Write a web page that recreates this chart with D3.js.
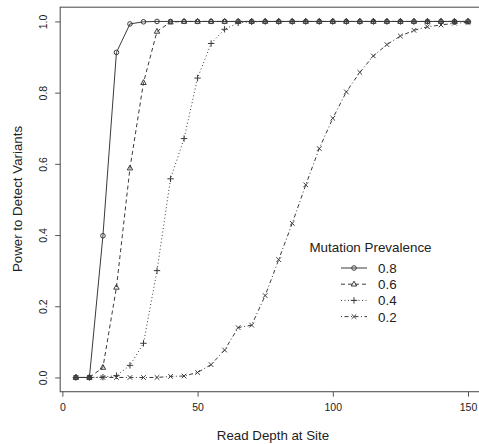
<!DOCTYPE html>
<html>
<head>
<meta charset="utf-8">
<script src="https://cdn.jsdelivr.net/npm/d3@7"></script>
<style>
  body { margin: 0; background: #fff; }
  text { font-family: "Liberation Sans", Arial, sans-serif; fill: #222; }
</style>
</head>
<body>
<div id="chart"></div>
<script>
// read depth at each site (x values)
let depths = [5, 10, 15, 20, 25, 30, 35, 40, 45, 50, 55, 60, 65, 70, 75,
  80, 85, 90, 95, 100, 105, 110, 115, 120, 125, 130, 135, 140, 145, 150];

// power to detect, one array per mutation prevalence
let power08 = [0, 0, 0.398, 0.913, 0.993, 0.999, 1, 1, 1, 1, 1, 1, 1, 1, 1,
  1, 1, 1, 1, 1, 1, 1, 1, 1, 1, 1, 1, 1, 1, 1];
let power06 = [0, 0, 0.028, 0.253, 0.588, 0.828, 0.972, 0.998, 1, 1, 1, 1, 1, 1, 1,
  1, 1, 1, 1, 1, 1, 1, 1, 1, 1, 1, 1, 1, 1, 1];
let power04 = [0, 0, 0.001, 0.005, 0.034, 0.096, 0.30, 0.558, 0.671, 0.841, 0.938, 0.978, 0.996, 0.999, 1,
  1, 1, 1, 1, 1, 1, 1, 1, 1, 1, 1, 1, 1, 1, 1];
let power02 = [0, 0, 0, 0, 0, 0, 0, 0.003, 0.004, 0.014, 0.036, 0.077, 0.14, 0.147, 0.23,
  0.331, 0.433, 0.541, 0.643, 0.728, 0.802, 0.857, 0.903, 0.935, 0.959, 0.975, 0.985, 0.990, 0.995, 0.997];

let prevalences = ['0.8', '0.6', '0.4', '0.2'];
let seriesValues = [power08, power06, power04, power02];

let xTicks = [0, 50, 100, 150];
let yTicks = [0, 0.2, 0.4, 0.6, 0.8, 1.0];

let w = 479,
  h = 444;

// R style: data range padded by 4%
let xScale = d3.scaleLinear().domain([-0.8, 155.8]).range([60.2, 483.7]);
let yScale = d3.scaleLinear().domain([-0.04, 1.04]).range([391.7, 7.2]);

let dashes = ['none', '4,3', '1,2.5', '1,2.5,4,2.5'];
let ink = '#3a3a3a';

let svg = d3.select('#chart')
  .append('svg')
  .attr('width', w)
  .attr('height', h);

// plot box
svg.append('rect')
  .attr('x', xScale.range()[0])
  .attr('y', yScale.range()[1])
  .attr('width', xScale.range()[1] - xScale.range()[0])
  .attr('height', yScale.range()[0] - yScale.range()[1])
  .style('fill', 'none')
  .style('stroke', '#555')
  .style('stroke-width', 1.1);

// axes
let xAxis = d3.axisBottom(xScale).tickValues(xTicks).tickSize(5).tickPadding(7)
  .tickFormat(d3.format('d'));
let gx = svg.append('g')
  .attr('transform', 'translate(0,' + yScale.range()[0] + ')')
  .call(xAxis);
gx.select('.domain').remove();
gx.selectAll('line').style('stroke', '#555');
gx.selectAll('text').style('font-size', '10.5px').style('font-family', '"Liberation Sans", Arial, sans-serif')
  .style('fill', '#222');

let yAxis = d3.axisLeft(yScale).tickValues(yTicks).tickSize(5)
  .tickFormat(d3.format('.1f'));
let gy = svg.append('g')
  .attr('transform', 'translate(' + xScale.range()[0] + ',0)')
  .call(yAxis);
gy.select('.domain').remove();
gy.selectAll('line').style('stroke', '#555');
gy.selectAll('text')
  .attr('x', null).attr('dy', null)
  .attr('text-anchor', 'middle')
  .attr('transform', 'translate(-13.5,0) rotate(-90)')
  .style('font-size', '10.5px').style('font-family', '"Liberation Sans", Arial, sans-serif')
  .style('fill', '#222');

// axis titles
svg.append('text')
  .text('Read Depth at Site')
  .attr('x', 273)
  .attr('y', 440)
  .attr('text-anchor', 'middle')
  .style('font-size', '13.3px');

svg.append('text')
  .text('Power to Detect Variants')
  .attr('text-anchor', 'middle')
  .attr('transform', 'translate(22,199) rotate(-90)')
  .style('font-size', '13.3px');

// point symbols, R pch 1..4 (open, no fill)
function drawSymbol(g, i, cx, cy) {
  if (i === 0) {
    g.append('circle').attr('cx', cx).attr('cy', cy).attr('r', 2.3)
      .style('fill', 'none').style('stroke', ink);
  } else if (i === 1) {
    g.append('path')
      .attr('d', 'M' + cx + ',' + (cy - 3) + 'L' + (cx + 2.7) + ',' + (cy + 1.8) + 'L' + (cx - 2.7) + ',' + (cy + 1.8) + 'Z')
      .style('fill', 'none').style('stroke', ink);
  } else if (i === 2) {
    g.append('path')
      .attr('d', 'M' + (cx - 3.2) + ',' + cy + 'H' + (cx + 3.2) + 'M' + cx + ',' + (cy - 3.2) + 'V' + (cy + 3.2))
      .style('fill', 'none').style('stroke', ink);
  } else {
    g.append('path')
      .attr('d', 'M' + (cx - 2.3) + ',' + (cy - 2.3) + 'L' + (cx + 2.3) + ',' + (cy + 2.3) +
        'M' + (cx - 2.3) + ',' + (cy + 2.3) + 'L' + (cx + 2.3) + ',' + (cy - 2.3))
      .style('fill', 'none').style('stroke', ink);
  }
}

let line = d3.line()
  .x(function (d, i) { return xScale(depths[i]); })
  .y(function (d) { return yScale(d); });

// series drawn in order, later ones overplot earlier ones
seriesValues.forEach(function (values, s) {
  let g = svg.append('g').attr('class', 'series-' + s);
  g.append('path')
    .datum(values)
    .attr('d', line)
    .style('fill', 'none')
    .style('stroke', ink)
    .style('stroke-width', 1)
    .style('stroke-dasharray', dashes[s]);
  values.forEach(function (v, i) {
    drawSymbol(g, s, xScale(depths[i]), yScale(v));
  });
});

// legend
let legend = svg.append('g').attr('class', 'legend');
legend.append('text')
  .text('Mutation Prevalence')
  .attr('x', 370.5)
  .attr('y', 252)
  .attr('text-anchor', 'middle')
  .style('font-size', '13.4px');

prevalences.forEach(function (p, i) {
  let y = 268 + i * 16.2;
  legend.append('line')
    .attr('x1', 341).attr('x2', 367)
    .attr('y1', y).attr('y2', y)
    .style('stroke', ink)
    .style('stroke-dasharray', dashes[i]);
  drawSymbol(legend, i, 354, y);
  legend.append('text')
    .text(p)
    .attr('x', 378)
    .attr('y', y + 5)
    .style('font-size', '13.4px');
});
</script>
</body>
</html>
